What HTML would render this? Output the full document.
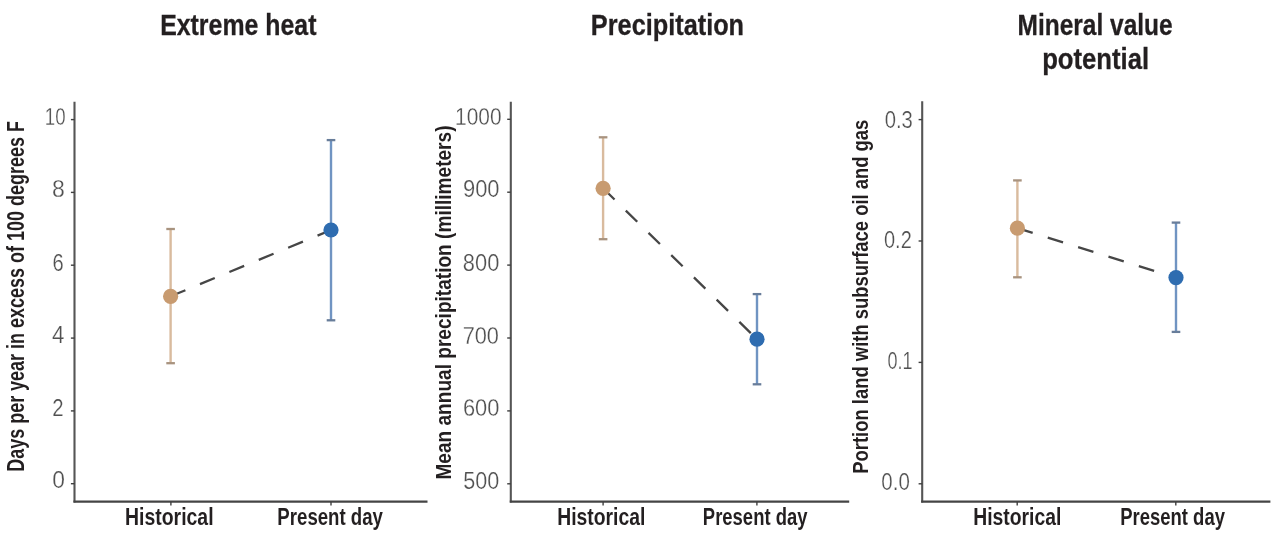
<!DOCTYPE html>
<html><head><meta charset="utf-8"><title>Climate and land comparison</title>
<style>
html,body{margin:0;padding:0;background:#fff;}
body{width:1280px;height:536px;overflow:hidden;}
svg{display:block;will-change:transform;}
text{font-family:"Liberation Sans", sans-serif;font-kerning:none;font-variant-ligatures:none;}
</style></head><body>
<svg width="1280" height="536" viewBox="0 0 1280 536">
<rect width="1280" height="536" fill="#ffffff"/>
<text transform="translate(160.14 34.85) scale(0.8582 1)" font-size="29" font-weight="700" fill="#231f20" stroke="#231f20" stroke-width="0.3">Extreme heat</text>
<text transform="translate(590.86 34.85) scale(0.8726 1)" font-size="29" font-weight="700" fill="#231f20" stroke="#231f20" stroke-width="0.3">Precipitation</text>
<text transform="translate(1017.61 34.85) scale(0.8440 1)" font-size="29" font-weight="700" fill="#231f20" stroke="#231f20" stroke-width="0.3">Mineral value</text>
<text transform="translate(1042.16 69.10) scale(0.8848 1)" font-size="29" font-weight="700" fill="#231f20" stroke="#231f20" stroke-width="0.3">potential</text>
<line x1="74.5" y1="101.7" x2="74.5" y2="502.6" stroke="#555555" stroke-width="2.1"/>
<line x1="73.45" y1="501.6" x2="427.5" y2="501.6" stroke="#444444" stroke-width="2.1"/>
<line x1="70.9" y1="483.7" x2="74.5" y2="483.7" stroke="#3f3f3f" stroke-width="1.4"/>
<text transform="translate(52.31 488.40) scale(0.9914 1)" font-size="23.0" font-weight="400" fill="#505050" stroke="#ffffff" stroke-width="0.25">0</text>
<line x1="70.9" y1="410.9" x2="74.5" y2="410.9" stroke="#3f3f3f" stroke-width="1.4"/>
<text transform="translate(52.27 415.50) scale(0.8876 1)" font-size="23.0" font-weight="400" fill="#505050" stroke="#ffffff" stroke-width="0.25">2</text>
<line x1="70.9" y1="338.1" x2="74.5" y2="338.1" stroke="#3f3f3f" stroke-width="1.4"/>
<text transform="translate(51.99 343.10) scale(0.9664 1)" font-size="23.0" font-weight="400" fill="#505050" stroke="#ffffff" stroke-width="0.25">4</text>
<line x1="70.9" y1="265.2" x2="74.5" y2="265.2" stroke="#3f3f3f" stroke-width="1.4"/>
<text transform="translate(52.58 270.50) scale(0.8763 1)" font-size="23.0" font-weight="400" fill="#505050" stroke="#ffffff" stroke-width="0.25">6</text>
<line x1="70.9" y1="192.4" x2="74.5" y2="192.4" stroke="#3f3f3f" stroke-width="1.4"/>
<text transform="translate(51.90 197.40) scale(1.0007 1)" font-size="23.0" font-weight="400" fill="#505050" stroke="#ffffff" stroke-width="0.25">8</text>
<line x1="70.9" y1="119.6" x2="74.5" y2="119.6" stroke="#3f3f3f" stroke-width="1.4"/>
<text transform="translate(44.78 124.60) scale(0.8111 1)" font-size="23.0" font-weight="400" fill="#505050" stroke="#ffffff" stroke-width="0.25">10</text>
<line x1="170.9" y1="502" x2="170.9" y2="505.6" stroke="#3f3f3f" stroke-width="1.4"/>
<line x1="331.0" y1="502" x2="331.0" y2="505.6" stroke="#3f3f3f" stroke-width="1.4"/>
<text transform="translate(125.00 524.70) scale(0.8451 1)" font-size="23" font-weight="700" fill="#231f20">Historical</text>
<text transform="translate(277.35 524.70) scale(0.8102 1)" font-size="23" font-weight="700" fill="#231f20">Present day</text>
<text transform="translate(23.80 471.80) rotate(-90) scale(0.7823 1)" font-size="23" font-weight="700" fill="#231f20">Days per year in excess of 100 degrees F</text>
<line x1="170.6" y1="296.3" x2="331.0" y2="230.0" stroke="#464646" stroke-width="2.3" stroke-dasharray="16 15.8"/>
<line x1="170.6" y1="229.0" x2="170.6" y2="363.2" stroke="#d9bb9e" stroke-width="2.4"/>
<line x1="166.29999999999998" y1="229.0" x2="174.9" y2="229.0" stroke="#a8937f" stroke-width="2.3"/>
<line x1="166.29999999999998" y1="363.2" x2="174.9" y2="363.2" stroke="#a8937f" stroke-width="2.3"/>
<circle cx="170.6" cy="296.3" r="7.6" fill="#c89b70"/>
<line x1="331.0" y1="140.1" x2="331.0" y2="320.3" stroke="#7094c2" stroke-width="2.4"/>
<line x1="326.7" y1="140.1" x2="335.3" y2="140.1" stroke="#687d9a" stroke-width="2.3"/>
<line x1="326.7" y1="320.3" x2="335.3" y2="320.3" stroke="#687d9a" stroke-width="2.3"/>
<circle cx="331.0" cy="230.0" r="7.6" fill="#2e6cb0"/>
<line x1="510.8" y1="101.7" x2="510.8" y2="502.6" stroke="#555555" stroke-width="2.1"/>
<line x1="509.75" y1="501.6" x2="849.2" y2="501.6" stroke="#444444" stroke-width="2.1"/>
<line x1="507.2" y1="483.8" x2="510.8" y2="483.8" stroke="#3f3f3f" stroke-width="1.4"/>
<text transform="translate(463.14 488.50) scale(0.9383 1)" font-size="23.0" font-weight="400" fill="#505050" stroke="#ffffff" stroke-width="0.25">500</text>
<line x1="507.2" y1="410.9" x2="510.8" y2="410.9" stroke="#3f3f3f" stroke-width="1.4"/>
<text transform="translate(462.89 416.20) scale(0.9502 1)" font-size="23.0" font-weight="400" fill="#505050" stroke="#ffffff" stroke-width="0.25">600</text>
<line x1="507.2" y1="338.0" x2="510.8" y2="338.0" stroke="#3f3f3f" stroke-width="1.4"/>
<text transform="translate(462.69 343.50) scale(0.9450 1)" font-size="23.0" font-weight="400" fill="#505050" stroke="#ffffff" stroke-width="0.25">700</text>
<line x1="507.2" y1="265.1" x2="510.8" y2="265.1" stroke="#3f3f3f" stroke-width="1.4"/>
<text transform="translate(462.85 270.50) scale(0.9513 1)" font-size="23.0" font-weight="400" fill="#505050" stroke="#ffffff" stroke-width="0.25">800</text>
<line x1="507.2" y1="192.2" x2="510.8" y2="192.2" stroke="#3f3f3f" stroke-width="1.4"/>
<text transform="translate(462.97 197.40) scale(0.9534 1)" font-size="23.0" font-weight="400" fill="#505050" stroke="#ffffff" stroke-width="0.25">900</text>
<line x1="507.2" y1="119.3" x2="510.8" y2="119.3" stroke="#3f3f3f" stroke-width="1.4"/>
<text transform="translate(455.11 124.80) scale(0.9069 1)" font-size="23.0" font-weight="400" fill="#505050" stroke="#ffffff" stroke-width="0.25">1000</text>
<line x1="603.1" y1="502" x2="603.1" y2="505.6" stroke="#3f3f3f" stroke-width="1.4"/>
<line x1="756.9" y1="502" x2="756.9" y2="505.6" stroke="#3f3f3f" stroke-width="1.4"/>
<text transform="translate(557.21 524.70) scale(0.8411 1)" font-size="23" font-weight="700" fill="#231f20">Historical</text>
<text transform="translate(702.87 524.70) scale(0.8024 1)" font-size="23" font-weight="700" fill="#231f20">Present day</text>
<text transform="translate(451.00 479.58) rotate(-90) scale(0.8480 1)" font-size="22.5" font-weight="700" fill="#231f20">Mean annual precipitation (millimeters)</text>
<line x1="603.1" y1="188.3" x2="757.0" y2="339.2" stroke="#464646" stroke-width="2.3" stroke-dasharray="16 15.8"/>
<line x1="603.1" y1="137.3" x2="603.1" y2="239.2" stroke="#d9bb9e" stroke-width="2.4"/>
<line x1="598.8000000000001" y1="137.3" x2="607.4" y2="137.3" stroke="#a8937f" stroke-width="2.3"/>
<line x1="598.8000000000001" y1="239.2" x2="607.4" y2="239.2" stroke="#a8937f" stroke-width="2.3"/>
<circle cx="603.1" cy="188.3" r="7.6" fill="#c89b70"/>
<line x1="757.0" y1="294.1" x2="757.0" y2="384.3" stroke="#7094c2" stroke-width="2.4"/>
<line x1="752.7" y1="294.1" x2="761.3" y2="294.1" stroke="#687d9a" stroke-width="2.3"/>
<line x1="752.7" y1="384.3" x2="761.3" y2="384.3" stroke="#687d9a" stroke-width="2.3"/>
<circle cx="757.0" cy="339.2" r="7.6" fill="#2e6cb0"/>
<line x1="922.2" y1="101.2" x2="922.2" y2="502.6" stroke="#555555" stroke-width="2.1"/>
<line x1="921.1500000000001" y1="501.6" x2="1270.4" y2="501.6" stroke="#444444" stroke-width="2.1"/>
<line x1="918.6" y1="483.8" x2="922.2" y2="483.8" stroke="#3f3f3f" stroke-width="1.4"/>
<text transform="translate(881.30 490.30) scale(0.8914 1)" font-size="23.0" font-weight="400" fill="#505050" stroke="#ffffff" stroke-width="0.25">0.0</text>
<line x1="918.6" y1="362.4" x2="922.2" y2="362.4" stroke="#3f3f3f" stroke-width="1.4"/>
<text transform="translate(887.40 368.50) scale(0.7846 1)" font-size="23.0" font-weight="400" fill="#505050" stroke="#ffffff" stroke-width="0.25">0.1</text>
<line x1="918.6" y1="241.0" x2="922.2" y2="241.0" stroke="#3f3f3f" stroke-width="1.4"/>
<text transform="translate(883.97 248.10) scale(0.8707 1)" font-size="23.0" font-weight="400" fill="#505050" stroke="#ffffff" stroke-width="0.25">0.2</text>
<line x1="918.6" y1="119.6" x2="922.2" y2="119.6" stroke="#3f3f3f" stroke-width="1.4"/>
<text transform="translate(884.71 128.20) scale(0.8815 1)" font-size="23.0" font-weight="400" fill="#505050" stroke="#ffffff" stroke-width="0.25">0.3</text>
<line x1="1017.2" y1="502" x2="1017.2" y2="505.6" stroke="#3f3f3f" stroke-width="1.4"/>
<line x1="1175.8" y1="502" x2="1175.8" y2="505.6" stroke="#3f3f3f" stroke-width="1.4"/>
<text transform="translate(973.21 524.70) scale(0.8402 1)" font-size="23" font-weight="700" fill="#231f20">Historical</text>
<text transform="translate(1120.16 524.70) scale(0.8040 1)" font-size="23" font-weight="700" fill="#231f20">Present day</text>
<text transform="translate(868.00 473.73) rotate(-90) scale(0.8195 1)" font-size="22.5" font-weight="700" fill="#231f20">Portion land with subsurface oil and gas</text>
<line x1="1017.4" y1="228.2" x2="1176.0" y2="277.6" stroke="#464646" stroke-width="2.3" stroke-dasharray="16 15.8"/>
<line x1="1017.4" y1="180.4" x2="1017.4" y2="277.3" stroke="#d9bb9e" stroke-width="2.4"/>
<line x1="1013.1" y1="180.4" x2="1021.6999999999999" y2="180.4" stroke="#a8937f" stroke-width="2.3"/>
<line x1="1013.1" y1="277.3" x2="1021.6999999999999" y2="277.3" stroke="#a8937f" stroke-width="2.3"/>
<circle cx="1017.4" cy="228.2" r="7.6" fill="#c89b70"/>
<line x1="1176.0" y1="222.6" x2="1176.0" y2="331.9" stroke="#7094c2" stroke-width="2.4"/>
<line x1="1171.7" y1="222.6" x2="1180.3" y2="222.6" stroke="#687d9a" stroke-width="2.3"/>
<line x1="1171.7" y1="331.9" x2="1180.3" y2="331.9" stroke="#687d9a" stroke-width="2.3"/>
<circle cx="1176.0" cy="277.6" r="7.6" fill="#2e6cb0"/>
</svg>
</body></html>
